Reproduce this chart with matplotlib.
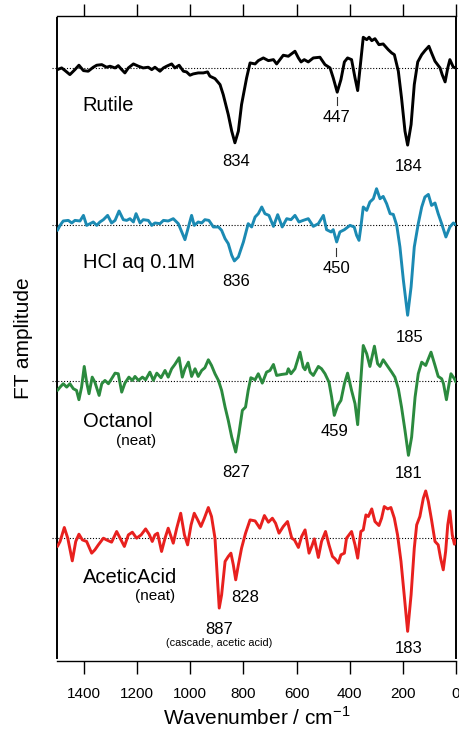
import matplotlib
matplotlib.use("Agg")
import matplotlib.pyplot as plt

plt.rcParams['font.family'] = ['Liberation Sans', 'DejaVu Sans']
plt.rcParams['mathtext.fontset'] = 'custom'
plt.rcParams['mathtext.rm'] = 'Liberation Sans'

# ---------------- data ----------------
rutile_wn = [1500, 1484, 1471, 1453, 1434, 1419, 1402, 1384, 1365, 1352,
             1333, 1315, 1302, 1283, 1271, 1258, 1246, 1233, 1214, 1195,
             1177, 1158, 1145, 1133, 1114, 1101, 1089, 1070, 1058, 1042,
             1026, 1014, 1001, 989, 970, 951, 935, 926, 907, 888,
             876, 857, 844, 832, 819, 807, 788, 775, 756, 744,
             725, 706, 687, 675, 650, 631, 606, 593, 583, 571,
             556, 537, 512, 493, 474, 462, 447, 433, 420, 408,
             393, 380, 370, 361, 349, 336, 327, 317, 305, 290,
             274, 255, 242, 232, 217, 205, 192, 182, 169, 157,
             144, 129, 117, 102, 92, 79, 60, 52, 41, 31,
             23, 10, 0]
rutile_amp = [-1.7, 0, -2.7, -6.7, -1.7, 2.7, -2.7, -3.3, 0.7, 2.7,
              3.3, 0.7, 1.7, 0, 2.3, -1.7, -5, 0, 4, 1.7,
              0, 0.7, -1.7, 0.7, -3.3, 0, 1.7, 4, 0, 2.7,
              -3.3, -4, -7.3, -6, -5, -5, -4, -8.3, -10.7, -16.7,
              -26.7, -46.7, -63.3, -75, -63.3, -36.7, -10, 5, 4, 7.3,
              10, 7.3, 8.3, 4, 12.7, 11.7, 16.7, 10, 6, 8.3,
              6, 10, 10.7, 3.3, 0, -10, -24.3, -11.7, 6, 10,
              8.3, -10, -22.7, 0, 30.7, 28.3, 30.7, 27.3, 29.3, 23.3,
              24, 18.3, 15, 13.3, -3.3, -30, -63.3, -77.3, -56.7, -16.7,
              6, 13.3, 17.3, 21.7, 15, 6.7, 0, -6.7, -14, 0,
              8.3, 0.7, 0]

hcl_wn = [1500, 1490, 1478, 1459, 1446, 1434, 1415, 1402, 1390, 1377,
          1365, 1352, 1340, 1327, 1311, 1296, 1283, 1268, 1252, 1239,
          1227, 1214, 1204, 1189, 1177, 1158, 1145, 1133, 1114, 1101,
          1083, 1064, 1045, 1032, 1020, 1007, 995, 985, 970, 957,
          945, 930, 913, 894, 882, 869, 857, 844, 834, 819,
          800, 782, 769, 756, 744, 731, 719, 704, 687, 671,
          654, 637, 621, 606, 591, 575, 556, 537, 518, 499,
          487, 470, 462, 449, 437, 420, 399, 383, 374, 365,
          358, 349, 336, 324, 311, 299, 286, 274, 261, 248,
          236, 223, 211, 198, 182, 169, 157, 142, 129, 117,
          104, 92, 79, 67, 54, 38, 23, 10, 0]
hcl_amp = [-5.7, -0.7, 3.7, 4.3, 1.7, 4.3, 3.7, 9.3, -0.7, 1,
           2.7, -0.7, 2.7, 5, 9.3, 1.7, 4.3, 13.7, 5, 4.3,
           6, 2.7, 11, 1.7, 5, 4.3, -0.7, 1.7, 1, 4.3,
           3.7, 6, 1, -7.3, -15, -2.3, 9.3, -0.7, 2.7, 1.7,
           5, 4.3, -2.3, -2.3, -5.7, -14, -19, -30.7, -36.3, -32.3,
           -17.3, 1, -2.3, 7.7, 11, 17.7, 11, 9.3, -1.7, 10,
           -2.3, 6, 5, 9.3, 2.7, 4.3, 6, -1.7, 1, 9.3,
           -5, -7.3, -5, -17.3, -7.3, -5, -0.7, -2.3, -10.7, -15.7,
           -2.3, 17.7, 14.3, 22.7, 26, 36, 26, 28.3, 21, 11,
           10.3, -0.7, -22.3, -55.7, -90.7, -62.3, -22.3, 1, 17.7, 27.7,
           30.3, 19.3, 21.7, 11, 1, -12.3, -2.3, 1.7, 0]

octanol_wn = [1500, 1490, 1478, 1465, 1453, 1440, 1428, 1419, 1409, 1399,
              1390, 1381, 1369, 1359, 1343, 1333, 1321, 1308, 1296, 1283,
              1271, 1258, 1246, 1231, 1218, 1208, 1195, 1180, 1168, 1152,
              1139, 1126, 1110, 1095, 1083, 1070, 1058, 1042, 1030, 1020,
              1007, 995, 982, 970, 957, 945, 932, 920, 907, 894,
              882, 869, 857, 844, 829, 817, 804, 792, 782, 772,
              756, 744, 729, 713, 700, 687, 675, 656, 637, 631,
              621, 606, 587, 575, 568, 558, 549, 537, 518, 506,
              493, 478, 468, 458, 445, 433, 420, 408, 393, 380,
              370, 361, 349, 336, 324, 307, 295, 286, 274, 255,
              242, 230, 217, 205, 192, 179, 167, 154, 142, 129,
              114, 94, 79, 67, 54, 47, 36, 26, 19, 6, 0]
octanol_amp = [-9, -5.7, -2.3, -5.7, -2.3, -7.3, -9, -18.3, -5.7, 15,
               -0.7, -12.3, 4.3, -0.7, -14, -2.3, 1, -2.3, 2.7, 8.3,
               7.7, -10.7, -1.7, 4.3, 1, 5, 1, 4.3, 1.7, 9.3,
               1, 8.3, 3.7, 11, 4.3, 12.7, 17, 23.7, 4.3, 12.7,
               19.3, 5, 12.7, 5, 11, 13.7, 21.7, 16, 7.7, 1,
               -9, -25.7, -39, -55.7, -70.7, -52.3, -29, -25.7, -9, 3.7,
               1.7, 7.7, -1.7, 9.3, 11, 17, 6, 7, 7.7, 12.7,
               7.7, 12.7, 29.3, 14.3, 11.7, 18.3, 9.3, 6, 15, 12.7,
               7.7, -0.7, -15.7, -34, -24, -19, -2.3, 8.3, -9, -22.3,
               -43.3, -9, 36, 27.7, 15, 35.3, 17.7, 15, 21.7, 14.3,
               9.3, 4.3, -7.3, -25.7, -49, -74, -55.7, -15.7, 7.7, 19.3,
               16, 29.3, 16, 5, 2.7, -2.3, -18.3, -2.3, 7.7, 2.7, -0.7]

acetic_wn = [1500, 1490, 1474, 1461, 1444, 1431, 1419, 1406, 1390, 1371,
             1359, 1346, 1327, 1315, 1296, 1277, 1264, 1248, 1233, 1218,
             1202, 1185, 1168, 1155, 1143, 1133, 1123, 1108, 1095, 1083,
             1064, 1051, 1036, 1022, 1010, 997, 985, 972, 960, 947,
             932, 920, 907, 898, 891, 882, 869, 857, 847, 838,
             829, 819, 807, 792, 775, 756, 738, 721, 706, 691,
             679, 666, 650, 634, 618, 608, 593, 581, 568, 553,
             543, 533, 518, 506, 491, 478, 465, 455, 443, 433,
             420, 412, 393, 380, 370, 358, 349, 339, 330, 317,
             305, 290, 280, 270, 257, 245, 232, 220, 207, 195,
             182, 169, 157, 148, 136, 123, 114, 104, 92, 79,
             67, 58, 48, 39, 31, 23, 14, 6, 0]
acetic_amp = [-8.3, -3.3, 10.7, 0, -22.7, -3.3, 4, -1.7, -3.3, -15,
              -11.7, -6.7, 0, -1.7, -4, 6.7, 0, -8.3, 3.3, 6,
              0, 3.3, 9.3, 4, -3.3, 3.3, 5, -13.3, 0, 10,
              -5, 10, 25, 3.3, -6.7, 13.3, 25, 18.3, 11.7, 20,
              30.7, 21.7, 0, -40, -70, -56.7, -23.3, -18.3, -15, -26.7,
              -41.7, -26.7, -10, 5, 18.3, 17.3, 10, 22.7, 16, 20,
              15, 5, 11.7, 16.7, 0, -1.7, -9.3, 1.7, 8.3, -15,
              -8.3, -0.7, -19.3, -3.3, 6.7, -6.7, -18.3, -20.7, -25, -16.7,
              -15, 0, 6.7, -6.7, -20, 6.7, 8.3, 23.3, 21.7, 29.3,
              16.7, 12.7, 20, 31.7, 29.3, 30.7, 20, 3.3, -23.3, -56.7,
              -93.3, -56.7, -10, 13.3, 21.7, 40, 47.3, 36.7, 18.3, -3.3,
              -6.7, -20, -31.7, -13.3, 13.3, 27.3, 3.3, -6, -1.7]

sample_names = ["Rutile", "HCl aq 0.1M", "Octanol", "AceticAcid"]
sample_notes = [None, None, "(neat)", "(neat)"]
trace_colors = ["#000000", "#1b8ab3", "#2b8a3e", "#e8201e"]
offsets = [0, -157, -314, -471]
x_ticks = [1400, 1200, 1000, 800, 600, 400, 200, 0]

# peak labels: (trace index, text, x, y relative to baseline)
peak_labels = [
    (0, "834", 826, -98), (0, "447", 451, -54), (0, "184", 178, -103),
    (1, "836", 827, -61), (1, "450", 449, -48), (1, "185", 176, -118),
    (2, "827", 828, -96), (2, "459", 457, -55), (2, "181", 180, -97),
    (3, "887", 893, -96), (3, "828", 793, -64), (3, "183", 180, -115),
]

# ---------------- figure ----------------
fig = plt.figure(figsize=(4.59, 7.29), dpi=100)
ax = fig.add_axes([57.4 / 459, (729 - 658.3) / 729, 398.6 / 459, 640 / 729])
ax.set_xlim(1500, 0)
ax.set_ylim(-591.3, 49.7)

for off in offsets:
    ax.plot([1520, -10], [off, off], color="black", lw=0.8,
            ls=(0, (1, 1.6)), clip_on=False, zorder=1)

series = [(rutile_wn, rutile_amp), (hcl_wn, hcl_amp),
          (octanol_wn, octanol_amp), (acetic_wn, acetic_amp)]
for (wn, amp), col, off in zip(series, trace_colors, offsets):
    ax.plot(wn, [a + off for a in amp], color=col, lw=2.1,
            solid_joinstyle="round", solid_capstyle="round", zorder=3)

# sample names
name_y = [-43, -43, -46, -45]
for name, off, yy in zip(sample_names, offsets, name_y):
    ax.text(1405, off + yy, name, fontsize=14.5, ha="left", va="baseline")
ax.text(1280, offsets[2] - 64, "(neat)", fontsize=11, ha="left", va="baseline")
ax.text(1208, offsets[3] - 62, "(neat)", fontsize=11, ha="left", va="baseline")

for idx, txt, xx, yy in peak_labels:
    ax.text(xx, offsets[idx] + yy, txt, fontsize=12, ha="center", va="baseline")
ax.text(892, offsets[3] - 108, "(cascade, acetic acid)", fontsize=7.8,
        ha="center", va="baseline")

# little marker ticks above 447 / 450 labels
ax.plot([447, 447], [offsets[0] - 29, offsets[0] - 37], color="#333333", lw=0.8)
ax.plot([450, 450], [offsets[1] - 23, offsets[1] - 31], color="#333333", lw=0.8)

# axes styling
for s in ["left", "right"]:
    ax.spines[s].set_linewidth(1.4)
for s in ["top", "bottom"]:
    ax.spines[s].set_linewidth(1.0)
    ax.spines[s].set_position(("outward", 1.7))
ax.set_xticks(x_ticks)
ax.set_xticklabels([str(t) for t in x_ticks])
ax.tick_params(axis="x", direction="out", length=9, width=1.0, top=True,
               labeltop=False, labelsize=11, pad=10)
ax.set_yticks([])
ax.set_xlabel("Wavenumber / cm$^{\\mathregular{-1}}$", fontsize=15, labelpad=4)
ax.set_ylabel("FT amplitude", fontsize=15)
ax.yaxis.set_label_coords(-0.062, 0.5)

fig.savefig("out.png", dpi=100)
